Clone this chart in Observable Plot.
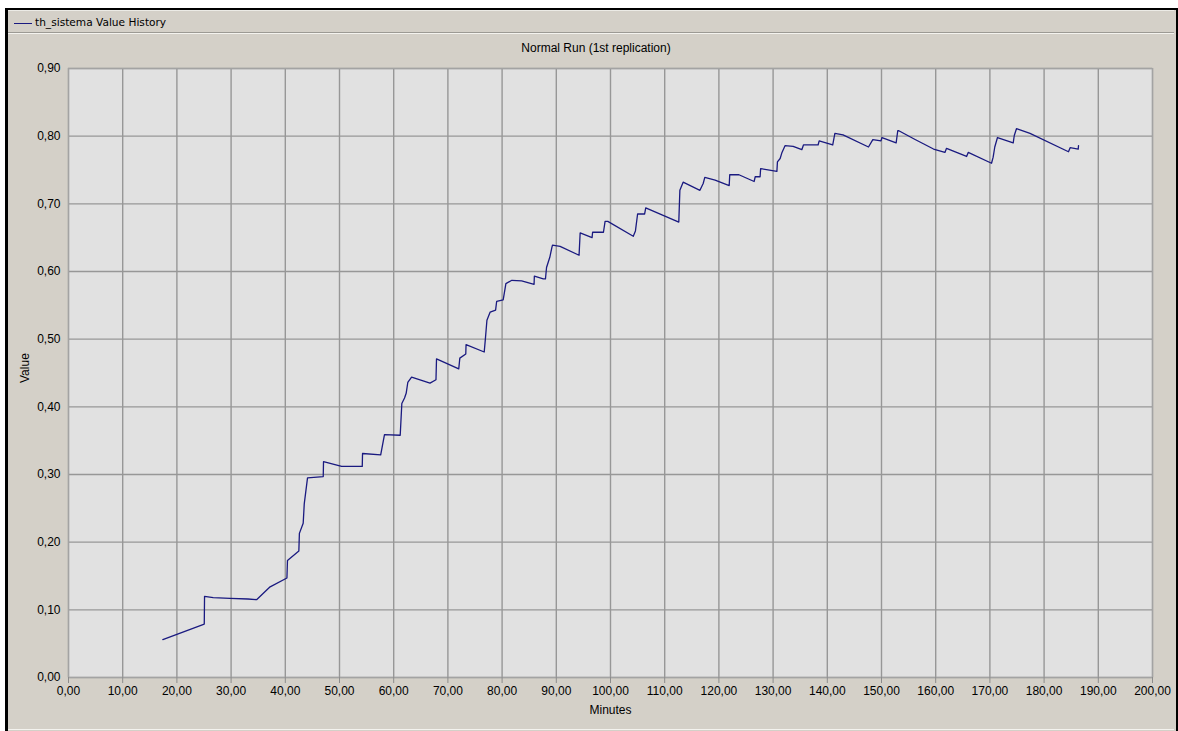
<!DOCTYPE html>
<html>
<head>
<meta charset="utf-8">
<script src="https://cdn.jsdelivr.net/npm/d3@7"></script>
<script src="https://cdn.jsdelivr.net/npm/@observablehq/plot@0.6"></script>
<style>
  body { margin: 0; background: #ffffff; width: 1178px; height: 731px; overflow: hidden; }
  #box { position: absolute; left: 5px; top: 8px; width: 1168px; height: 721px;
         border-left: 3px solid #000; border-top: 2px solid #000; border-right: 2px solid #000;
         background: #d4d0c8; font-family: "Liberation Sans", Arial, sans-serif; }
  #header { position: absolute; left: 0; top: 0; width: 1166px; height: 21px;
            border-top: 1px solid #ecebe6; border-bottom: 1px solid #9c9a94; }
  #header .sw { position: absolute; left: 6px; top: 12px; width: 18px; height: 0; border-top: 1.5px solid #1a1a80; }
  #header .tx { position: absolute; left: 27px; top: 5px; line-height: 13px; font-family: "DejaVu Sans", sans-serif; font-size: 10.6px; color: #000; }
  #sep { position: absolute; left: 0; top: 23px; width: 1166px; height: 0; border-top: 1px solid #f4f3ef; }
  #title { position: absolute; left: 0; top: 27px; width: 1176px; height: 22px; line-height: 22px;
           text-align: center; font-size: 12px; color: #000; }
  #chart { position: absolute; left: 0; top: 48px; }
  #bottomline { position: absolute; left: 0; top: 719px; width: 1166px; height: 0; border-top: 1px solid #f4f3ef; }
</style>
</head>
<body>
<div id="box">
  <div id="header"><div class="sw"></div><div class="tx">th_sistema Value History</div></div>
  <div id="sep"></div>
  <div id="title">Normal Run (1st replication)</div>
  <div id="chart"></div>
  <div id="bottomline"></div>
</div>
<script>
// Data (minutes, value)
const minutes = [
  17.4, 25.05, 25.1, 26.7, 29.8, 33.1, 34.7, 37.2, 40.3, 40.4,
  42.5, 42.6, 43.3, 43.5, 44.1, 47.0, 47.05, 50.4, 54.2, 54.25,
  57.6, 58.3, 61.2, 61.5, 62.0, 62.3, 62.6, 63.3, 66.7, 67.8,
  67.9, 72.0, 72.2, 73.3, 73.35, 76.7, 76.9, 77.2, 77.8, 78.8,
  79.0, 80.2, 80.7, 81.8, 83.6, 85.9, 85.95, 87.6, 88.0, 88.2,
  88.8, 89.2, 89.3, 90.7, 94.2, 94.4, 96.6, 96.7, 98.7, 99.0,
  99.5, 104.2, 104.6, 105.0, 106.3, 106.5, 112.6, 112.8, 113.4, 116.5,
  117.1, 117.4, 119.3, 121.9, 122.0, 123.7, 126.5, 126.7, 127.6, 127.7,
  130.7, 130.8, 131.3, 131.6, 132.2, 133.7, 135.3, 135.6, 138.3, 138.5,
  141.0, 141.4, 142.9, 147.6, 148.4, 149.9, 150.1, 152.7, 153.0, 153.2,
  156.2, 159.6, 161.7, 162.0, 165.7, 166.0, 170.3, 170.6, 170.9, 171.4,
  174.3, 174.5, 174.9, 177.4, 184.5, 184.8, 186.3, 186.35
];
const values = [
  0.056, 0.079, 0.120, 0.118, 0.117, 0.116, 0.115, 0.134, 0.147, 0.173,
  0.187, 0.213, 0.228, 0.257, 0.295, 0.297, 0.319, 0.312, 0.312, 0.331,
  0.329, 0.359, 0.358, 0.405, 0.413, 0.420, 0.436, 0.444, 0.435, 0.440,
  0.471, 0.456, 0.472, 0.478, 0.492, 0.481, 0.499, 0.528, 0.540, 0.543,
  0.556, 0.558, 0.582, 0.587, 0.586, 0.581, 0.593, 0.589, 0.589, 0.606,
  0.621, 0.636, 0.639, 0.637, 0.624, 0.657, 0.650, 0.658, 0.658, 0.674,
  0.674, 0.652, 0.660, 0.685, 0.685, 0.694, 0.673, 0.720, 0.732, 0.720,
  0.730, 0.739, 0.735, 0.727, 0.743, 0.743, 0.733, 0.740, 0.740, 0.752,
  0.748, 0.762, 0.767, 0.775, 0.786, 0.785, 0.780, 0.787, 0.787, 0.793,
  0.787, 0.804, 0.802, 0.784, 0.795, 0.793, 0.798, 0.790, 0.808, 0.808,
  0.795, 0.781, 0.776, 0.782, 0.770, 0.776, 0.760, 0.769, 0.784, 0.798,
  0.790, 0.801, 0.811, 0.804, 0.777, 0.783, 0.781, 0.786
];
const xTicks = [0, 10, 20, 30, 40, 50, 60, 70, 80, 90, 100, 110, 120, 130, 140, 150, 160, 170, 180, 190, 200];
const yTicks = [0, 0.1, 0.2, 0.3, 0.4, 0.5, 0.6, 0.7, 0.8, 0.9];
const xLabel = "Minutes";
const yLabel = "Value";

const data = minutes.map((m, i) => ({minutes: m, value: values[i]}));
const fmt = d => d.toFixed(2).replace(".", ",");

const chart = Plot.plot({
  width: 1166,
  height: 669,
  marginLeft: 60,
  marginRight: 22,
  marginTop: 10,
  marginBottom: 50,
  style: {background: "transparent", fontFamily: "Liberation Sans, Arial, sans-serif", fontSize: "12px", color: "#000"},
  x: {domain: [0, 200]},
  y: {domain: [0, 0.9]},
  marks: [
    Plot.frame({fill: "#e1e1e1", stroke: null}),
    Plot.gridX(xTicks, {stroke: "#979797", strokeOpacity: 1, strokeWidth: 1.4}),
    Plot.gridY(yTicks, {stroke: "#979797", strokeOpacity: 1, strokeWidth: 1.4}),
    Plot.frame({stroke: "#a3a3a3", strokeWidth: 1.2}),
    Plot.axisX(xTicks, {tickSize: 6, tickPadding: 3, stroke: "#8c8c8c", fill: "#000", tickFormat: fmt, label: null}),
    Plot.axisY(yTicks, {tickSize: 0, tickPadding: 8, fill: "#000", tickFormat: fmt, label: null}),
    Plot.line(data, {x: "minutes", y: "value", stroke: "#1a1a80", strokeWidth: 1.3}),
    Plot.text([xLabel], {frameAnchor: "bottom", text: d => d, dy: 36, fill: "#000"}),
    Plot.text([yLabel], {frameAnchor: "left", text: d => d, dx: -43, dy: 10, rotate: -90, fill: "#000"})
  ]
});
document.getElementById("chart").appendChild(chart);
</script>
</body>
</html>
